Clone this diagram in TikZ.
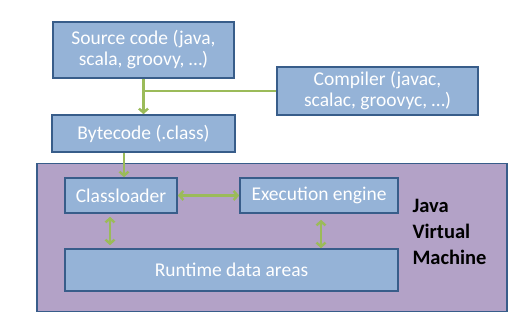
\documentclass[tikz,border=0pt]{standalone}
\usepackage{fontspec}
\setmainfont{Carlito}
\usetikzlibrary{arrows.meta}
\definecolor{boxblue}{HTML}{95B3D7}
\definecolor{boxline}{HTML}{385D8A}
\definecolor{jvmpurple}{HTML}{B3A2C7}
\definecolor{arrowgreen}{HTML}{9BBB59}
\begin{document}
\begin{tikzpicture}[x=1pt, y=-1pt, font=\fontsize{19.5}{21}\selectfont]
    \tikzstyle{bluebox}=[draw=boxline, line width=1.6pt, fill=boxblue, text=white, align=center, inner sep=0pt]
    \tikzstyle{flow}=[arrowgreen, line width=2.4pt, -{Straight Barb[length=4pt, width=9pt]}]
    \tikzstyle{twoway}=[flow, {Straight Barb[length=4pt, width=9pt]}-{Straight Barb[length=4pt, width=9pt]}]

    \useasboundingbox (0,0) rectangle (513,313);

    \node[bluebox, draw=boxline, fill=jvmpurple, minimum width=470pt, minimum height=148pt] (jvm) at (272,237.5) {};

    \node[bluebox, minimum width=181pt, minimum height=56pt] (src) at (143.5,50) {Source code (java,\\scala, groovy, \dots)};
    \node[bluebox, minimum width=201pt, minimum height=48pt] (comp) at (377.5,91) {Compiler (javac,\\scalac, groovyc, \dots)};
    \node[bluebox, minimum width=183pt, minimum height=37pt] (bc) at (143.5,133.5) {Bytecode (.class)};

    \node[bluebox, minimum width=112pt, minimum height=35pt] (cl) at (121,195.5) {Classloader};
    \node[bluebox, minimum width=158pt, minimum height=35pt] (ee) at (319,195.5) {Execution engine};
    \node[bluebox, minimum width=333pt, minimum height=42pt] (rt) at (231.5,270) {Runtime data areas};

    \node[anchor=west, align=left, font=\fontsize{20.5}{26}\selectfont\bfseries] (jvmlabel) at (409,232) {Java\\Virtual\\Machine};

    \draw[flow] (src) -- (bc);
    \draw[arrowgreen, line width=2.4pt] (comp.west) -- (comp.west -| src.south);
    \draw[flow] ([xshift=3pt]bc.south -| cl.north) -- ([xshift=3pt]cl.north);
    \draw[twoway] (cl) -- (ee);
    \draw[twoway, shorten <=3pt, shorten >=3pt] ([xshift=-11pt]cl.south) -- ([xshift=-11pt]cl.south |- rt.north);
    \draw[twoway, shorten <=6pt] ([xshift=2pt]ee.south) -- ([xshift=2pt]ee.south |- rt.north);
\end{tikzpicture}
\end{document}
